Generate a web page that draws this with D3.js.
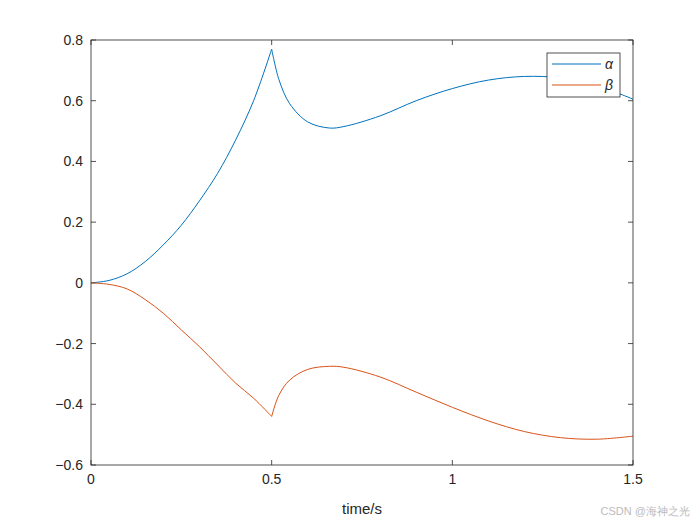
<!DOCTYPE html>
<html><head><meta charset="utf-8">
<script src="https://cdn.jsdelivr.net/npm/d3@7"></script>
<style>body{margin:0;background:#fff}text{font-family:"Liberation Sans",Arial,sans-serif}</style>
</head><body><svg width="700" height="525"></svg>
<script>
// samples (before and after the kink at t = 0.5)
const tPre = [0, 0.05, 0.1, 0.15, 0.2, 0.25, 0.3, 0.35, 0.4, 0.45, 0.5];
const alphaPre = [0, 0.008, 0.03, 0.07, 0.125, 0.19, 0.27, 0.36, 0.47, 0.6, 0.77];
const betaPre = [0, -0.005, -0.02, -0.055, -0.1, -0.155, -0.21, -0.27, -0.33, -0.38, -0.44];
const tPost = [0.5, 0.52, 0.55, 0.6, 0.66, 0.7, 0.8, 0.9, 1.0, 1.1, 1.2, 1.3, 1.4, 1.5];
const alphaPost = [0.77, 0.67, 0.59, 0.53, 0.51, 0.515, 0.55, 0.6, 0.64, 0.668, 0.68, 0.675, 0.65, 0.605];
const betaPost = [-0.44, -0.37, -0.32, -0.285, -0.275, -0.278, -0.31, -0.36, -0.41, -0.455, -0.49, -0.51, -0.515, -0.505];
const xTicks = [0, 0.5, 1, 1.5];
const yTicks = [-0.6, -0.4, -0.2, 0, 0.2, 0.4, 0.6, 0.8];

const svg = d3.select('svg');
const L = 91, R = 633, T = 40, B = 465;
const x = d3.scaleLinear().domain([0, 1.5]).range([L, R]);
const y = d3.scaleLinear().domain([-0.6, 0.8]).range([B, T]);

// ticks inside, on all four sides
const ax = svg.append('g').attr('stroke', '#262626').attr('stroke-width', 0.8);
xTicks.forEach(v => {
    ax.append('line').attr('x1', x(v)).attr('x2', x(v)).attr('y1', B).attr('y2', B - 5);
    ax.append('line').attr('x1', x(v)).attr('x2', x(v)).attr('y1', T).attr('y2', T + 5);
});
yTicks.forEach(v => {
    ax.append('line').attr('x1', L).attr('x2', L + 5).attr('y1', y(v)).attr('y2', y(v));
    ax.append('line').attr('x1', R).attr('x2', R - 5).attr('y1', y(v)).attr('y2', y(v));
});

const line = d3.line().x(d => x(d[0])).y(d => y(d[1])).curve(d3.curveCatmullRom);
const series = [
    [tPre, alphaPre, '#0072bd'], [tPost, alphaPost, '#0072bd'],
    [tPre, betaPre, '#d95319'], [tPost, betaPost, '#d95319']
];
series.forEach(([t, v, c]) => {
    svg.append('path').attr('d', line(t.map((d, i) => [d, v[i]])))
        .attr('fill', 'none').attr('stroke', c).attr('stroke-width', 1);
});

svg.append('rect').attr('x', L).attr('y', T).attr('width', R - L).attr('height', B - T)
    .attr('fill', 'none').attr('stroke', '#262626').attr('stroke-width', 0.8);

svg.selectAll('.xl').data(xTicks).enter().append('text')
    .attr('x', d => x(d)).attr('y', B + 19).attr('text-anchor', 'middle')
    .attr('font-size', 14).attr('fill', '#262626').text(d => d);
svg.selectAll('.yl').data(yTicks).enter().append('text')
    .attr('x', L - 8).attr('y', d => y(d) + 5).attr('text-anchor', 'end')
    .attr('font-size', 14).attr('fill', '#262626').text(d => d3.format('.1f')(d).replace('0.0', '0'));
svg.append('text').attr('x', x(0.75)).attr('y', 514).attr('text-anchor', 'middle')
    .attr('font-size', 15).attr('fill', '#262626').text('time/s');

// legend
const lg = svg.append('g');
lg.append('rect').attr('x', 547).attr('y', 53).attr('width', 73).attr('height', 44)
    .attr('fill', '#fff').attr('stroke', '#262626').attr('stroke-width', 0.8);
[['α', '#0072bd'], ['β', '#d95319']].forEach(([n, c], i) => {
    const yy = 64 + i * 21;
    lg.append('line').attr('x1', 552).attr('x2', 601).attr('y1', yy).attr('y2', yy).attr('stroke', c);
    lg.append('text').attr('x', 605).attr('y', yy + 5).attr('font-size', 14)
        .attr('font-style', 'italic').attr('font-family', 'DejaVu Serif').attr('fill', '#262626').text(n);
});

svg.append('text').attr('x', 690).attr('y', 515).attr('text-anchor', 'end')
    .attr('font-size', 11).attr('fill', '#bbb').text('CSDN @海神之光');
</script></body></html>
